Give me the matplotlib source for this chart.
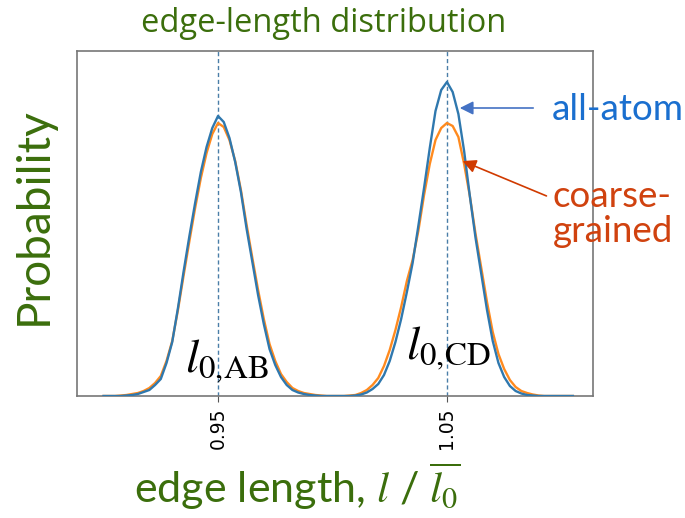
import numpy as np
import matplotlib
matplotlib.use('Agg')
import matplotlib.pyplot as plt

plt.rcParams['mathtext.fontset'] = 'stix'

# edge length l / l0
x = [0.9000, 0.9025, 0.9050, 0.9075, 0.9100, 0.9125, 0.9150, 0.9175, 0.9200, 0.9225,
     0.9250, 0.9275, 0.9300, 0.9325, 0.9350, 0.9375, 0.9400, 0.9425, 0.9450, 0.9475,
     0.9500, 0.9525, 0.9550, 0.9575, 0.9600, 0.9625, 0.9650, 0.9675, 0.9700, 0.9725,
     0.9750, 0.9775, 0.9800, 0.9825, 0.9850, 0.9875, 0.9900, 0.9925, 0.9950, 0.9975,
     1.0000, 1.0025, 1.0050, 1.0075, 1.0100, 1.0125, 1.0150, 1.0175, 1.0200, 1.0225,
     1.0250, 1.0275, 1.0300, 1.0325, 1.0350, 1.0375, 1.0400, 1.0425, 1.0450, 1.0475,
     1.0500, 1.0525, 1.0550, 1.0575, 1.0600, 1.0625, 1.0650, 1.0675, 1.0700, 1.0725,
     1.0750, 1.0775, 1.0800, 1.0825, 1.0850, 1.0875, 1.0900, 1.0925, 1.0950, 1.0975,
     1.1000, 1.1025, 1.1050]

# probability (arbitrary units), all-atom
p_aa = [0, 0, 0, 0, 0.5, 1, 2, 4, 6, 11,
        17, 33, 54, 88, 125, 160, 193, 224, 249, 268,
        280, 274, 258, 234, 204, 167, 134, 101, 72, 47,
        31, 19, 11, 6, 3.5, 2, 1, 0.5, 0, 0,
        0, 0, 0, 0, 0.5, 1.5, 3.5, 7, 12, 21,
        35, 54, 77, 104, 133, 170, 208, 248, 285, 306,
        314, 304, 282, 245, 200, 158, 122, 86, 55, 33,
        19, 10, 5, 2.5, 1, 0.5, 0, 0, 0, 0,
        0, 0, 0]

# probability (arbitrary units), coarse-grained
p_cg = [0, 0, 0, 0.5, 1, 2, 3, 5, 8, 13,
        20, 35, 55, 86, 121, 155, 188, 218, 243, 262,
        273, 269, 256, 235, 206, 171, 138, 106, 77, 52,
        35, 22, 14, 8, 5, 3, 2, 1, 0.5, 0,
        0, 0, 0, 0.5, 1, 3, 6, 11, 18, 30,
        46, 66, 89, 115, 136, 165, 201, 232, 256, 268,
        273, 270, 259, 232, 200, 162, 128, 94, 64, 42,
        27, 16, 9, 5, 3, 1.5, 0.5, 0, 0, 0,
        0, 0, 0]

l0 = [0.95, 1.05]
tick_labels = ['0.95', '1.05']

green = '#3b6e0c'
W, H = 685, 518

fig = plt.figure(figsize=(6.85, 5.18), dpi=100)
ax = fig.add_axes([77 / W, 1 - 396 / H, (593 - 77) / W, (396 - 51) / H])

for v in l0:
    ax.axvline(v, color='#4a7ea8', ls=(0, (3, 2)), lw=1.0, zorder=1)
ax.plot(x, p_aa, color='#2f78ae', lw=1.7, zorder=3)
ax.plot(x, p_cg, color='#ff8a1e', lw=1.7, zorder=2)

ax.set_xlim(0.8884, 1.1138)
ax.set_ylim(0, 345)
ax.set_yticks([])
ax.set_xticks(l0)
ax.set_xticklabels(tick_labels, rotation=90, fontsize=13.5)
ax.tick_params(axis='x', length=4, color='#555555', pad=4)
for s in ax.spines.values():
    s.set_color('#777777')
    s.set_linewidth(1.2)

fig.text(324 / W, 1 - 32 / H, 'edge-length distribution', color=green,
         fontsize=23.5, family='Open Sans', ha='center', va='baseline')
fig.text(34 / W, 1 - 216 / H, 'Probability', rotation=90, color=green,
         fontsize=33, family='Lato', ha='center', va='center')
fig.text(297 / W, 1 - 503 / H, r'edge length, $l$ / $\overline{l_0}$',
         color=green, fontsize=31, family='Lato', ha='center', va='baseline')

ax.text(0.954, 24, r'$l_{0,\!\mathrm{AB}}$', fontsize=34, ha='center',
        va='baseline')
ax.text(1.0507, 37, r'$l_{0,\!\mathrm{CD}}$', fontsize=34, ha='center',
        va='baseline')

fig.text(552 / W, 1 - 120 / H, 'all-atom', color='#1a6fcf', fontsize=26.5,
         family='Lato', ha='left', va='baseline')
fig.text(553 / W, 1 - 207 / H, 'coarse-', color='#d0420f', fontsize=26.5,
         family='Lato', ha='left', va='baseline')
fig.text(553 / W, 1 - 242 / H, 'grained', color='#d0420f', fontsize=26.5,
         family='Lato', ha='left', va='baseline')

ax.annotate('', xy=(457, H - 108), xycoords='figure pixels',
            xytext=(536, H - 108), textcoords='figure pixels',
            arrowprops=dict(arrowstyle='-|>', color='#4472c4', lw=1.2,
                            mutation_scale=20))
ax.annotate('', xy=(460, H - 160), xycoords='figure pixels',
            xytext=(549, H - 197), textcoords='figure pixels',
            arrowprops=dict(arrowstyle='-|>', color='#d03a00', lw=1.2,
                            mutation_scale=20))

fig.savefig('out.png', dpi=100)
